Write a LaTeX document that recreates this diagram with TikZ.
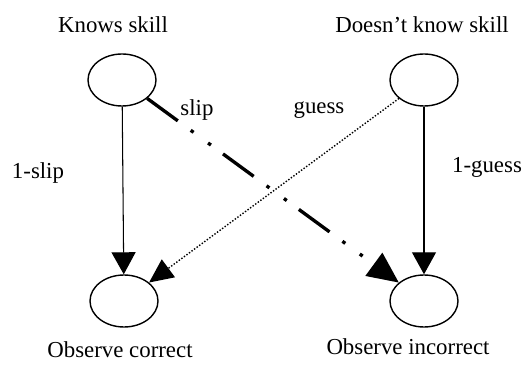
\documentclass[tikz,border=0pt]{standalone}
\usepackage{fontspec}
\setmainfont{Liberation Serif}
\usepackage{tikz}
\usetikzlibrary{calc,shapes.geometric,arrows.meta}

\begin{document}
\begin{tikzpicture}[font=\fontsize{13}{15}\selectfont,
  state/.style={ellipse,draw,thick,minimum width=1.36cm,minimum height=1.04cm,inner sep=0pt},
  plain/.style={semithick,-{Triangle[length=0.44cm,width=0.48cm]}},
  sliparrow/.style={line width=1.9pt,dash pattern=on 0.76cm off 0.32cm on 0.07cm off 0.36cm on 0.07cm off 0.3cm,-{Triangle[length=0.62cm,width=0.56cm]}},
  guessarrow/.style={densely dotted,thick,-{Triangle[length=0.48cm,width=0.44cm]}}]
  \useasboundingbox (0,0) rectangle (10.62,7.3);

  % Define the four states
  \node[state] (know) at (2.44,5.7) {};
  \node[state] (notknow) at (8.48,5.7) {};
  \node[state] (correct) at (2.48,1.28) {};
  \node[state] (incorrect) at (8.48,1.28) {};

  % Draw the transitions
  \draw[plain] (know) -- (correct);
  \draw[plain] (notknow) -- (incorrect);
  \draw[guessarrow] (notknow) -- (correct);
  \draw[sliparrow] (know) -- (incorrect);

  % Label the states and transitions
  \node (knowlbl) at (2.26,6.8) {Knows skill};
  \node (notknowlbl) at (8.44,6.8) {Doesn’t know skill};
  \node (correctlbl) at (2.4,0.3) {Observe correct};
  \node (incorrectlbl) at (8.16,0.36) {Observe incorrect};
  \node (sliplbl) at (3.94,5.1) {slip};
  \node (guesslbl) at (6.38,5.1) {guess};
  \node (oneslip) at (0.76,3.84) {1-slip};
  \node (oneguess) at (9.74,3.96) {1-guess};

\end{tikzpicture}
\end{document}
